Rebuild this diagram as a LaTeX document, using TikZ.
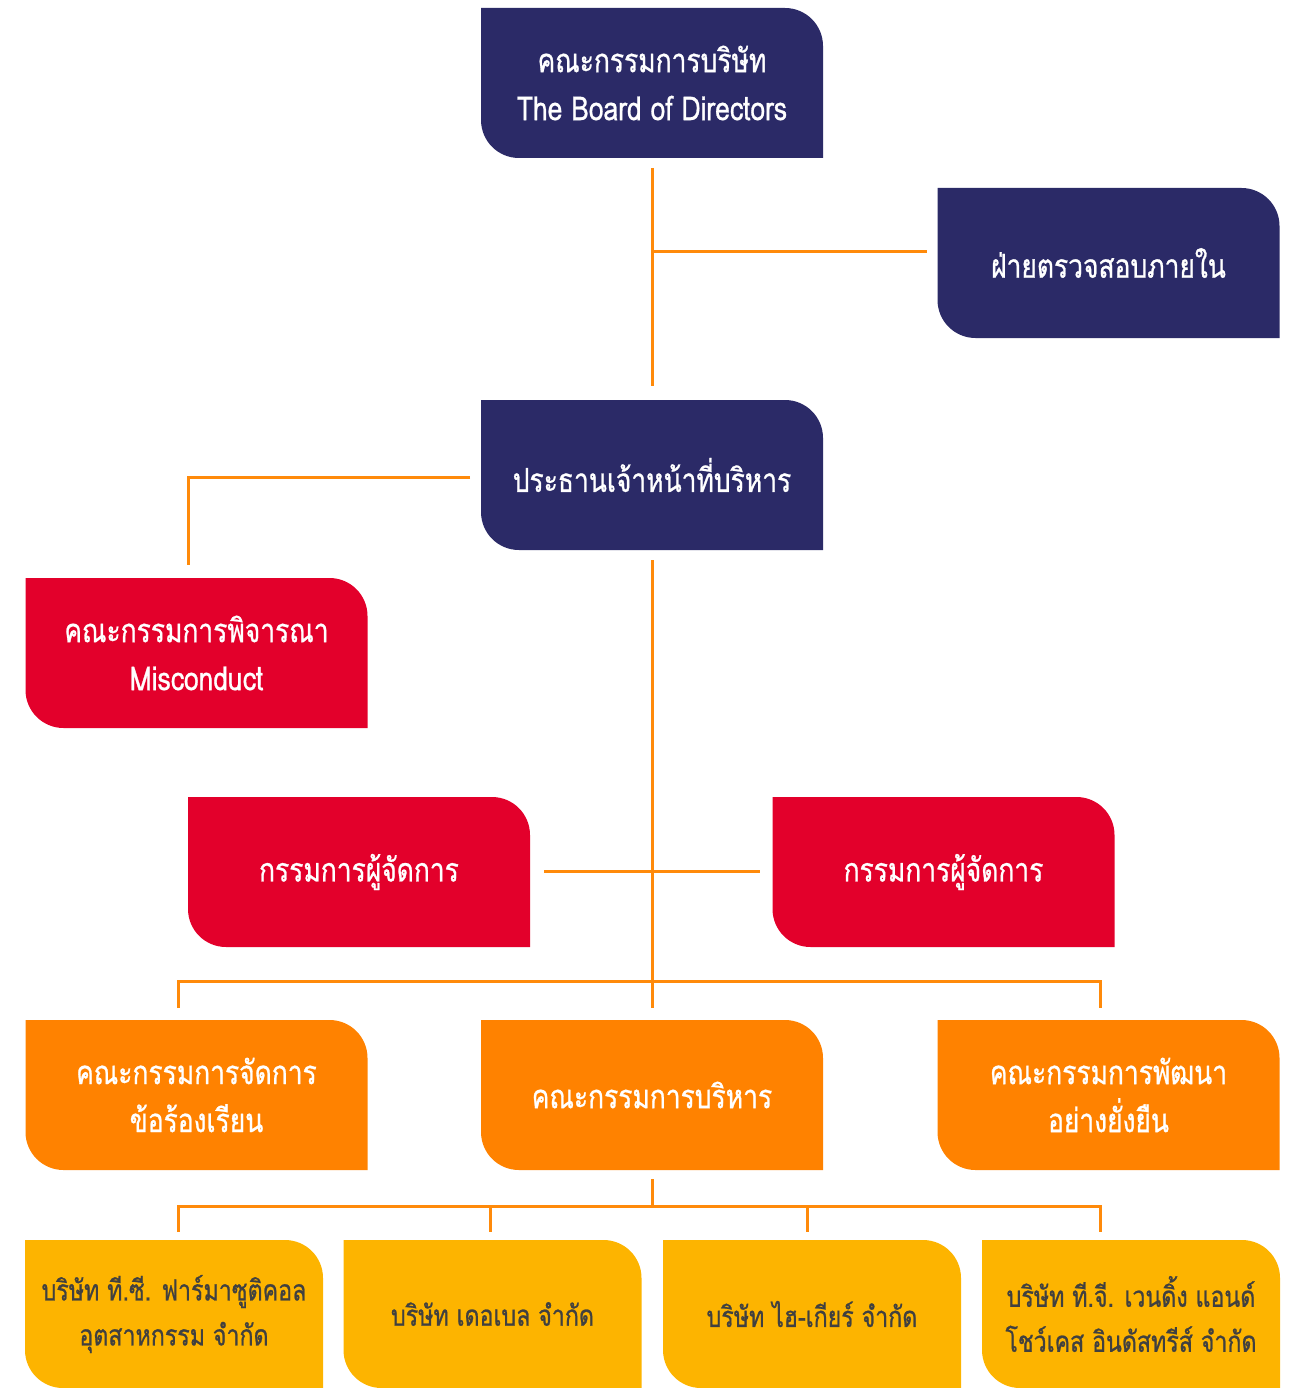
\documentclass[tikz,border=0pt]{standalone}
\usepackage{fontspec}
\newfontfamily\thaifont[Script=Thai,FakeStretch=0.8,FakeBold=0.8]{Loma}
\definecolor{navy}{HTML}{2B2A67}
\definecolor{redbox}{HTML}{E3002B}
\definecolor{orangebox}{HTML}{FF8200}
\definecolor{yellowbox}{HTML}{FDB400}
\definecolor{lineorange}{HTML}{FF8A0A}
\definecolor{darktext}{HTML}{404040}
\tikzset{
  cbox/.style={rectangle, inner sep=0pt, align=center, text=white,
    font=\thaifont\fontsize{33}{48}\selectfont,
    path picture={\fill[#1] (path picture bounding box.north west)
      -- ([xshift=-38pt]path picture bounding box.north east)
      .. controls ([xshift=-17pt]path picture bounding box.north east) and ([yshift=-17pt]path picture bounding box.north east)
      .. ([yshift=-38pt]path picture bounding box.north east)
      -- (path picture bounding box.south east)
      -- ([xshift=38pt]path picture bounding box.south west)
      .. controls ([xshift=17pt]path picture bounding box.south west) and ([yshift=17pt]path picture bounding box.south west)
      .. ([yshift=38pt]path picture bounding box.south west)
      -- cycle;}},
  bigbox/.style={cbox=#1, minimum width=342pt, minimum height=150pt},
  smallbox/.style={cbox=yellowbox, minimum width=298pt, minimum height=148pt, text=darktext,
    font=\thaifont\fontsize{29}{45}\selectfont},
  conn/.style={draw=lineorange, line width=3pt}
}
\begin{document}
\begin{tikzpicture}[x=1pt,y=-1pt]
\useasboundingbox (0,0) rectangle (1290,1388);
% boxes
\node[bigbox=navy] (board) at (652,83) {คณะกรรมการบริษัท\\The Board of Directors};
\node[bigbox=navy] (audit) at (1108.5,263) {ฝ่ายตรวจสอบภายใน};
\node[bigbox=navy] (ceo) at (652,475) {ประธานเจ้าหน้าที่บริหาร};
\node[bigbox=redbox] (misc) at (196.5,653) {คณะกรรมการพิจารณา\\Misconduct};
\node[bigbox=redbox] (mdl) at (359,872) {กรรมการผู้จัดการ};
\node[bigbox=redbox] (mdr) at (943.5,872) {กรรมการผู้จัดการ};
\node[bigbox=orangebox] (compl) at (196.5,1095) {คณะกรรมการจัดการ\\ข้อร้องเรียน};
\node[bigbox=orangebox] (exec) at (652,1095) {คณะกรรมการบริหาร};
\node[bigbox=orangebox] (sust) at (1108.5,1095) {คณะกรรมการพัฒนา\\อย่างยั่งยืน};
\node[smallbox] (tc) at (174,1314) {บริษัท ที.ซี. ฟาร์มาซูติคอล\\อุตสาหกรรม จำกัด};
\node[smallbox] (able) at (492.5,1314) {บริษัท เดอเบล จำกัด};
\node[smallbox] (hig) at (812,1314) {บริษัท ไฮ-เกียร์ จำกัด};
\node[smallbox] (tg) at (1131,1314) {บริษัท ที.จี. เวนดิ้ง แอนด์\\โชว์เคส อินดัสทรีส์ จำกัด};
% junction coordinates
\coordinate (jaudit) at (652,251);
\coordinate (jmisc) at (188,477);
\coordinate (jmd) at (652,871);
\coordinate (busA) at (652,981);
\coordinate (busAl) at (178,981);
\coordinate (busAr) at (1100,981);
\coordinate (busB) at (652,1206);
\coordinate (busBl) at (178,1206);
\coordinate (busB2) at (490,1206);
\coordinate (busB3) at (807,1206);
\coordinate (busBr) at (1100,1206);
% connectors
\draw[conn] (652,168) -- (652,386);
\draw[conn] (jaudit) -- (927,251);
\draw[conn] (470,477) -- (jmisc) -- (188,565);
\draw[conn] (652,560) -- (652,1008);
\draw[conn] (544,871) -- (760,871);
\draw[conn] (178,1008) -- (busAl) -- (busAr) -- (1100,1008);
\draw[conn] (652,1179) -- (busB);
\draw[conn] (178,1232) -- (busBl) -- (busBr) -- (1100,1232);
\draw[conn] (busB2) -- (490,1232);
\draw[conn] (busB3) -- (807,1232);
\end{tikzpicture}
\end{document}
